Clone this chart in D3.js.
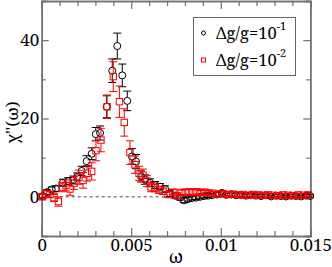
<!DOCTYPE html>
<html>
<head>
<meta charset="utf-8">
<script src="https://cdn.jsdelivr.net/npm/d3@7"></script>
<style>
  body { margin: 0; background: #fff; }
</style>
</head>
<body>
<div id="chart"></div>
<script>
// set 1: dg/g = 1e-1 (black circles)
const omegaA = [0.00006, 0.00030, 0.00056, 0.00080, 0.00118, 0.00148, 0.00176, 0.00198, 0.00223, 0.00251,
  0.00279, 0.00302, 0.00326, 0.00363, 0.00394, 0.00422, 0.00450, 0.00478,
  0.00504, 0.00527, 0.00555, 0.00577, 0.00605, 0.00633, 0.00661, 0.00689, 0.00717, 0.00745,
  0.00773, 0.00795, 0.00817, 0.00840, 0.00862, 0.00884, 0.00907, 0.00929, 0.00951, 0.00979,
  0.01007, 0.01030, 0.01058, 0.01085, 0.01113, 0.01141, 0.01169, 0.01197, 0.01225, 0.01253,
  0.01281, 0.01309, 0.01337, 0.01365, 0.01393, 0.01421, 0.01449, 0.01477, 0.01499];
const chiA = [0.2, 1.2, 1.9, 2.1, 3.6, 4.0, 4.3, 5.1, 6.6, 9.1,
  11.0, 16.0, 16.3, 23.0, 32.2, 38.5, 31.0, 24.5,
  10.3, 9.0, 5.2, 4.4, 3.6, 3.0, 2.6, 2.0, 0.8, 0.3,
  -0.2, -0.9, -0.6, -0.3, -0.2, 0.0, 0.2, 0.3, 0.4, 0.6,
  1.0, 0.5, 0.6, 0.4, 0.5, 0.3, 0.5, 0.3, 0.2, 0.4,
  0.1, 0.3, 0.2, 0.1, 0.3, 0.2, 0.1, 0.3, 0.2];
const errA = [0.5, 0.6, 0.6, 0.7, 0.9, 0.9, 1.0, 1.0, 1.2, 1.4,
  1.5, 1.7, 1.8, 2.8, 3.0, 3.3, 2.9, 2.5,
  2.0, 1.8, 1.4, 1.2, 1.0, 0.9, 0.8, 0.8, 0.7, 0.6,
  0.6, 0.6, 0.5, 0.5, 0.5, 0.5, 0.5, 0.5, 0.4, 0.5,
  0.5, 0.4, 0.4, 0.4, 0.4, 0.4, 0.4, 0.3, 0.3, 0.3,
  0.3, 0.3, 0.3, 0.3, 0.3, 0.3, 0.3, 0.3, 0.3];

// set 2: dg/g = 1e-2 (red squares)
const omegaB = [0.00002, 0.00024, 0.00046, 0.00069, 0.00093, 0.00113, 0.00136, 0.00158, 0.00180, 0.00208,
  0.00231, 0.00253, 0.00279, 0.00303, 0.00331, 0.00365, 0.00400, 0.00434, 0.00461, 0.00493,
  0.00521, 0.00544, 0.00566, 0.00588, 0.00611, 0.00633, 0.00656, 0.00678, 0.00706, 0.00733, 0.00756,
  0.00778, 0.00801, 0.00823, 0.00845, 0.00868, 0.00890, 0.00912, 0.00935, 0.00957, 0.00985,
  0.01013, 0.01041, 0.01069, 0.01097, 0.01125, 0.01153, 0.01181, 0.01209, 0.01236, 0.01264,
  0.01292, 0.01320, 0.01348, 0.01376, 0.01404, 0.01432, 0.01460, 0.01488];
const chiB = [0.0, 0.8, 0.6, -0.2, -1.2, 2.5, 2.9, 2.0, 3.5, 5.0,
  4.2, 6.0, 6.5, 11.8, 14.5, 23.0, 30.7, 24.3, 19.0, 11.3,
  8.2, 6.0, 5.5, 4.0, 2.5, 2.3, 1.8, 1.4, 0.6, 1.2, 0.3,
  1.1, 1.2, 1.3, 1.2, 1.3, 1.1, 1.2, 1.0, 0.9, 0.7,
  0.8, 0.6, 0.7, 0.5, 0.6, 0.4, 0.6, 0.5, 0.4, 0.5,
  0.4, 0.3, 0.5, 0.4, 0.3, 0.5, 0.4, 0.5];
const errB = [0.6, 0.7, 0.8, 1.0, 1.2, 1.2, 1.4, 1.6, 1.6, 1.8,
  2.0, 2.0, 2.2, 2.6, 3.0, 3.0, 3.8, 4.0, 3.5, 3.0,
  2.2, 1.8, 1.6, 1.4, 1.2, 1.0, 0.9, 0.8, 0.7, 0.7, 0.6,
  0.6, 0.6, 0.6, 0.6, 0.6, 0.5, 0.5, 0.5, 0.5, 0.5,
  0.5, 0.5, 0.5, 0.4, 0.4, 0.4, 0.4, 0.4, 0.4, 0.4,
  0.4, 0.4, 0.4, 0.4, 0.4, 0.4, 0.4, 0.4];

const xMajor = [0, 0.005, 0.01, 0.015];
const xMajorLabels = ['0', '0.005', '0.01', '0.015'];
const yMajor = [0, 20, 40];
const seriesNames = ['\u0394g/g=10', '\u0394g/g=10'];
const seriesExp = ['-1', '-2'];

const width = 332, height = 267;
const margin = {left: 41.7, right: 21.7, top: 1, bottom: 31};
const serif = '"Noto Serif", "DejaVu Serif", serif';

const svg = d3.select('#chart').append('svg')
  .attr('width', width)
  .attr('height', height)
  .style('display', 'block');

const x = d3.scaleLinear().domain([0, 0.015]).range([margin.left, width - margin.right]);
const y = d3.scaleLinear().domain([-10, 50]).range([height - margin.bottom, margin.top]);

const frameColor = '#707070';
const x0 = x.range()[0], x1 = x.range()[1];
const yb = y.range()[0], yt = y.range()[1];

// zero line
svg.append('line')
  .attr('x1', x0).attr('x2', x1)
  .attr('y1', y(0)).attr('y2', y(0))
  .attr('stroke', '#444')
  .attr('stroke-width', 1)
  .attr('stroke-dasharray', '3,3');

// axes, ticks pointing inwards on all four sides
const xMinor = d3.range(0, 0.0151, 0.001).filter(v => !xMajor.some(m => Math.abs(m - v) < 1e-9));
const yMinor = [-10, 10, 30, 50];

function styleAxis(g) {
  g.attr('font-family', serif).attr('font-size', 17);
  g.selectAll('.domain').attr('stroke', frameColor).attr('stroke-width', 1.5);
  g.selectAll('.tick line').attr('stroke', frameColor).attr('stroke-width', 1.2);
  g.selectAll('.tick text').attr('fill', '#000');
}

svg.append('g').attr('transform', `translate(0,${yb})`)
  .call(d3.axisBottom(x).tickValues(xMajor).tickSize(-8).tickPadding(3)
    .tickFormat((d, i) => xMajorLabels[i]))
  .call(styleAxis);
svg.append('g').attr('transform', `translate(0,${yb})`)
  .call(d3.axisBottom(x).tickValues(xMinor).tickSize(-5).tickFormat(''))
  .call(styleAxis);
svg.append('g').attr('transform', `translate(0,${yt})`)
  .call(d3.axisTop(x).tickValues(xMajor).tickSize(-8).tickFormat(''))
  .call(styleAxis);
svg.append('g').attr('transform', `translate(0,${yt})`)
  .call(d3.axisTop(x).tickValues(xMinor).tickSize(-5).tickFormat(''))
  .call(styleAxis);

svg.append('g').attr('transform', `translate(${x0},0)`)
  .call(d3.axisLeft(y).tickValues(yMajor).tickSize(-7).tickPadding(2.5))
  .call(styleAxis);
svg.append('g').attr('transform', `translate(${x0},0)`)
  .call(d3.axisLeft(y).tickValues(yMinor).tickSize(-4).tickFormat(''))
  .call(styleAxis);
svg.append('g').attr('transform', `translate(${x1},0)`)
  .call(d3.axisRight(y).tickValues(yMajor).tickSize(-7).tickFormat(''))
  .call(styleAxis);
svg.append('g').attr('transform', `translate(${x1},0)`)
  .call(d3.axisRight(y).tickValues(yMinor).tickSize(-4).tickFormat(''))
  .call(styleAxis);

// axis titles
svg.append('text')
  .attr('x', (x0 + x1) / 2)
  .attr('y', 263)
  .attr('text-anchor', 'middle')
  .attr('font-family', serif)
  .attr('font-size', 18)
  .text('\u03c9');
svg.append('text')
  .attr('transform', `translate(18,${(yb + yt) / 2 + 4}) rotate(-90)`)
  .attr('text-anchor', 'middle')
  .attr('font-family', serif)
  .attr('font-size', 17)
  .text('\u03c7\'\'(\u03c9)');

// data sets
const setA = omegaA.map((w, i) => ({w: w, v: chiA[i], e: errA[i]}));
const setB = omegaB.map((w, i) => ({w: w, v: chiB[i], e: errB[i]}));

function drawSet(data, color, shape) {
  const g = svg.append('g');
  const r = 3.5;
  const cap = 4;
  data.forEach(d => {
    const cx = x(d.w), cy = y(d.v);
    const top = y(d.v + d.e), bot = y(d.v - d.e);
    const eg = g.append('g').attr('stroke', color).attr('stroke-width', 1);
    if (cy - top > r) {
      eg.append('line').attr('x1', cx).attr('x2', cx).attr('y1', top).attr('y2', cy - r);
      eg.append('line').attr('x1', cx).attr('x2', cx).attr('y1', bot).attr('y2', cy + r);
    }
    eg.append('line').attr('x1', cx - cap).attr('x2', cx + cap).attr('y1', top).attr('y2', top);
    eg.append('line').attr('x1', cx - cap).attr('x2', cx + cap).attr('y1', bot).attr('y2', bot);
    if (shape === 'circle') {
      g.append('circle').attr('cx', cx).attr('cy', cy).attr('r', r)
        .attr('fill', 'none').attr('stroke', color).attr('stroke-width', 1);
    } else {
      g.append('rect').attr('x', cx - r + 0.3).attr('y', cy - r + 0.3)
        .attr('width', 2 * r - 0.6).attr('height', 2 * r - 0.6)
        .attr('fill', 'none').attr('stroke', color).attr('stroke-width', 1);
    }
  });
}

drawSet(setA, '#000', 'circle');
drawSet(setB, '#ff0000', 'square');

// legend
const legend = svg.append('g').attr('font-family', serif);
legend.append('rect')
  .attr('x', 193.5).attr('y', 17.5)
  .attr('width', 102).attr('height', 58)
  .attr('fill', '#fff')
  .attr('stroke', '#666')
  .attr('stroke-width', 1);
const legendColors = ['#000', '#ff0000'];
seriesNames.forEach((name, i) => {
  const ly = 33 + i * 27;
  if (i === 0) {
    legend.append('circle').attr('cx', 203.5).attr('cy', ly).attr('r', 2)
      .attr('fill', 'none').attr('stroke', legendColors[i]).attr('stroke-width', 1);
  } else {
    legend.append('rect').attr('x', 201.5).attr('y', ly - 2).attr('width', 4).attr('height', 4)
      .attr('fill', 'none').attr('stroke', legendColors[i]).attr('stroke-width', 1);
  }
  const t = legend.append('text')
    .attr('x', 216).attr('y', ly + 6)
    .attr('font-size', 16.5);
  t.append('tspan').text(name);
  t.append('tspan').attr('font-size', 11).attr('dy', -9).text(seriesExp[i]);
});
</script>
</body>
</html>
